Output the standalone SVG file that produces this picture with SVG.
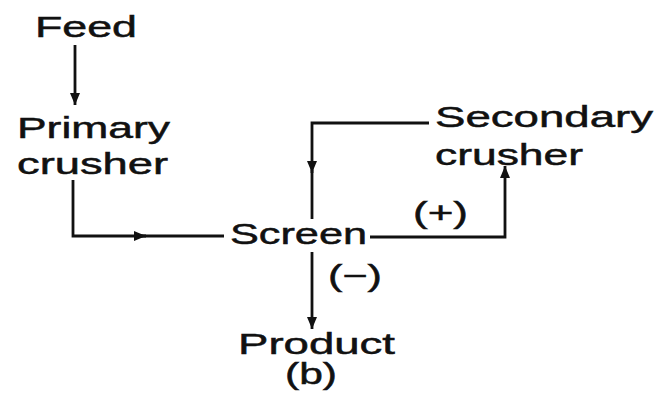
<svg xmlns="http://www.w3.org/2000/svg" width="657" height="397" viewBox="0 0 657 397">
<style>
.t{font-family:"Liberation Sans",Arial,sans-serif;font-size:30px;fill:#111;stroke:#111;stroke-width:0.5}
.c{fill:none;stroke:#111;stroke-width:2.8}
</style>
<defs>
<marker id="ah" markerUnits="userSpaceOnUse" markerWidth="14" markerHeight="12" refX="12" refY="5" orient="auto">
<path d="M0,0 L12,5 L0,10 z" fill="#111"/>
</marker>
</defs>
<rect width="657" height="397" fill="#fff"/>
<g id="connectors">
<line class="c" x1="75" y1="45" x2="75" y2="105" marker-end="url(#ah)"/>
<path class="c" d="M73,180 V236 H146" marker-end="url(#ah)"/>
<line class="c" x1="140" y1="236" x2="224" y2="236"/>
<path class="c" d="M370,237 H505 V166" marker-end="url(#ah)"/>
<path class="c" d="M429,123 H312 V173" marker-end="url(#ah)"/>
<line class="c" x1="312" y1="170" x2="312" y2="219"/>
<line class="c" x1="312" y1="252" x2="312" y2="329" marker-end="url(#ah)"/>
</g>
<g id="feed"><text class="t" x="35" y="37" textLength="102" lengthAdjust="spacingAndGlyphs">Feed</text></g>
<g id="primary-crusher">
<text class="t" x="17" y="138" textLength="153" lengthAdjust="spacingAndGlyphs">Primary</text>
<text class="t" x="17" y="174" textLength="151" lengthAdjust="spacingAndGlyphs">crusher</text>
</g>
<g id="screen"><text class="t" x="230" y="244" textLength="137" lengthAdjust="spacingAndGlyphs">Screen</text></g>
<g id="secondary-crusher">
<text class="t" x="435" y="127" textLength="218" lengthAdjust="spacingAndGlyphs">Secondary</text>
<text class="t" x="435" y="165" textLength="148" lengthAdjust="spacingAndGlyphs">crusher</text>
</g>
<g id="plus"><text class="t" x="413" y="223" textLength="55" lengthAdjust="spacingAndGlyphs">(+)</text></g>
<g id="minus"><text class="t" x="328" y="286" textLength="54" lengthAdjust="spacingAndGlyphs">(−)</text></g>
<g id="product">
<text class="t" x="238" y="354" textLength="157" lengthAdjust="spacingAndGlyphs">Product</text>
<text class="t" x="285" y="384" textLength="52" lengthAdjust="spacingAndGlyphs">(b)</text>
</g>
</svg>
